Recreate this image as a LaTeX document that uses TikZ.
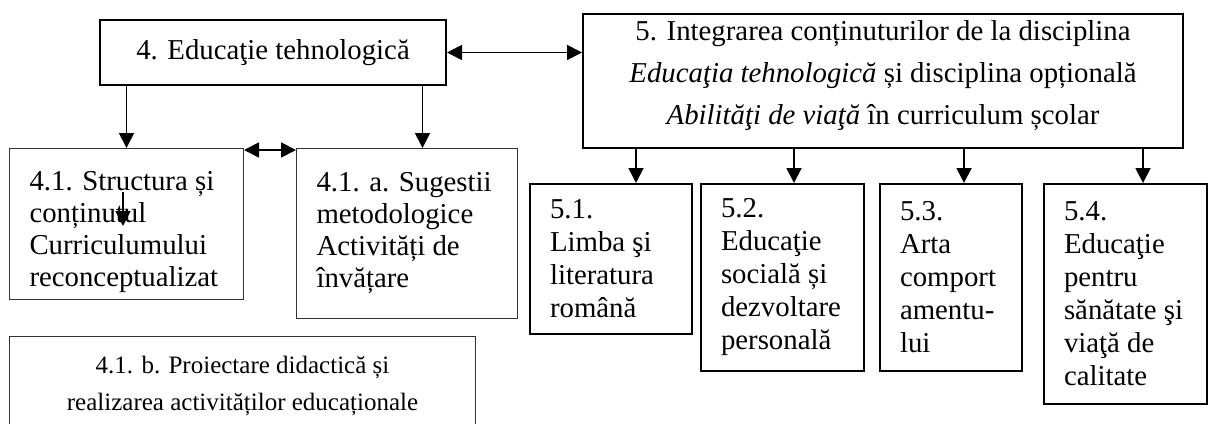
\documentclass[tikz,border=0pt]{standalone}
\usepackage{fontspec}
\setmainfont{Liberation Serif}
\usetikzlibrary{arrows.meta}

\begin{document}
\begin{tikzpicture}[
    x=0.5pt, y=-0.5pt,
    every node/.style={font=\fontsize{14.4}{16}\selectfont},
    topbox/.style={draw, line width=1pt, align=center, inner sep=0pt, anchor=north west},
    thinbox/.style={draw=black!80, line width=0.5pt, inner xsep=10pt, inner ysep=0pt, anchor=north west},
    subbox/.style={thinbox, align=flush left},
    discbox/.style={draw, line width=1pt, align=flush left, inner xsep=10pt, inner ysep=0pt, anchor=north west, font=\fontsize{14.4}{16.5}\selectfont},
    arr/.style={-{Triangle[length=7.5pt, width=7.5pt]}, line width=0.9pt},
    dblarr/.style={{Triangle[length=7.5pt, width=7.5pt]}-{Triangle[length=7.5pt, width=7.5pt]}, line width=0.9pt},
]
\useasboundingbox (0,0) rectangle (1208,423);

% --- Top level ---
\node[topbox, minimum width=173pt, minimum height=32.5pt] (E4) at (99,19) {4. Educaţie tehnologică};
\node[topbox, minimum width=300pt, minimum height=67pt, font=\fontsize{14.4}{21}\selectfont] (I5) at (582,13)
    {5. Integrarea conținuturilor de la disciplina\\
     \textit{Educaţia tehnologică} și disciplina opțională\\
     \textit{Abilităţi de viaţă} în curriculum școlar\rule[-8pt]{0pt}{8pt}};

\draw[dblarr] (E4.east) -- (E4.east -| I5.west);

% --- Sub-themes of 4 ---
\node[subbox, text width=97pt, minimum width=117pt, minimum height=75.5pt] (S41) at (9,148)
    {\rule{0pt}{18pt}4.1. Structura și\\ conținutul\\ Curriculumului\\ reconceptualizat};
\node[subbox, text width=90.5pt, minimum width=110.5pt, minimum height=85pt] (S41a) at (296,148)
    {4.1. a. Sugestii\\ metodologice\\ Activități de\\ învățare};
\node[thinbox, inner xsep=0pt, minimum width=233pt, minimum height=49.5pt,
      font=\fontsize{12.5}{18.5}\selectfont] (S41b) at (9,336)
    {\parbox{190pt}{\centering 4.1. b. Proiectare didactică și\\ realizarea activităților educaționale}\hspace{32pt}};

% arrows 4 -> 4.1, 4.1.a
\draw[arr] (E4.south -| S41.north) -- (S41.north);
\draw[arr] ([xshift=7.75pt]S41a.north |- E4.south) -- ([xshift=7.75pt]S41a.north);
\draw[dblarr] ([yshift=-1pt]S41.north east) -- ([yshift=-1pt]S41.north east -| S41a.west);

% stray arrow inside 4.1
\coordinate (in1) at (123,192);
\coordinate (in2) at (123,226);
\draw[arr] (in1) -- (in2);

% --- Disciplines under 5 ---
\node[discbox, text width=61pt, minimum width=81pt, minimum height=75pt] (L51) at (529,183)
    {5.1.\\ Limba şi\\ literatura\\ română};
\node[discbox, text width=61.5pt, minimum width=81.5pt, minimum height=93.5pt] (L52) at (700,183)
    {5.2.\\ Educaţie\\ socială și\\ dezvoltare\\ personală};
\node[discbox, text width=51pt, minimum width=71pt, minimum height=93.5pt] (L53) at (879,183)
    {5.3.\\ Arta\\ comport\\ amentu-\\ lui};
\node[discbox, text width=61.5pt, minimum width=81.5pt, minimum height=110pt] (L54) at (1043,183)
    {5.4.\\ Educaţie\\ pentru\\ sănătate şi\\ viaţă de\\ calitate};

% arrows 5 -> 5.x
\draw[arr] ([xshift=12.5pt]L51.north |- I5.south) -- ([xshift=12.5pt]L51.north);
\draw[arr] ([xshift=5.75pt]L52.north |- I5.south) -- ([xshift=5.75pt]L52.north);
\draw[arr] ([xshift=6.5pt]L53.north |- I5.south) -- ([xshift=6.5pt]L53.north);
\draw[arr] ([xshift=8.75pt]L54.north |- I5.south) -- ([xshift=8.75pt]L54.north);

\end{tikzpicture}
\end{document}
